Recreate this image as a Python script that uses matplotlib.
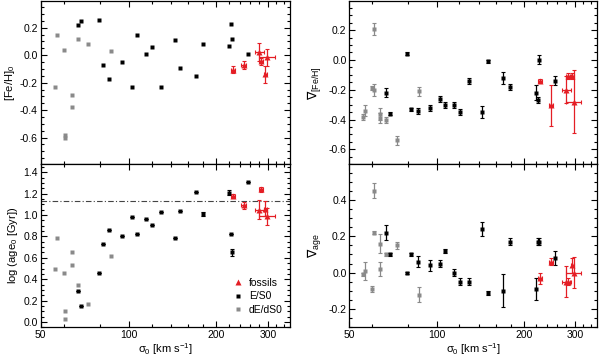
import matplotlib
matplotlib.use('Agg')
import matplotlib.pyplot as plt
from matplotlib.lines import Line2D
from matplotlib.ticker import FixedLocator, MultipleLocator, FuncFormatter, NullFormatter

plt.rcParams['font.family'] = ['Liberation Sans', 'DejaVu Sans']
plt.rcParams['mathtext.fontset'] = 'custom'
plt.rcParams['mathtext.rm'] = 'Liberation Sans'
plt.rcParams['mathtext.it'] = 'Liberation Sans:italic'
plt.rcParams['mathtext.sf'] = 'Liberation Sans'

# ---------------- data ----------------
# velocity dispersions [km/s]
sig_dE = [55.8, 56.7, 59.9, 60.7, 60.7, 63.9, 63.9, 66.9, 72.8, 86.8]
sig_E = [66.9, 68.9, 78.9, 81.8, 86.0, 95.1, 103.0, 107.0, 115.0, 120.2,
         129.1, 143.8, 150.5, 170.2, 179.2, 221.0, 224.0, 226.0, 256.6]
sig_F = [227.9, 247.5, 280.5, 284.3, 294.3, 298.2]
sig_F_err = [4, 4, 10, 4, 4, 18]

# central [Fe/H]
feh_dE = [-0.23, 0.15, 0.04, -0.58, -0.60, -0.29, -0.38, 0.12, 0.08, 0.03]
feh_E = [0.22, 0.25, 0.26, -0.07, -0.17, -0.05, -0.23, 0.15, 0.01, 0.06,
         -0.23, 0.11, -0.09, -0.15, 0.08, 0.07, 0.23, 0.12, 0.01]
feh_F = [-0.105, -0.07, 0.025, -0.045, -0.14, -0.015]
feh_F_err = [0.025, 0.03, 0.065, 0.025, 0.06, 0.06]

# central log age
age_dE = [0.50, 0.79, 0.46, 0.10, 0.03, 0.65, 0.53, 0.35, 0.17, 0.62]
age_E = [0.29, 0.15, 0.46, 0.73, 0.86, 0.80, 0.98, 0.82, 0.96, 0.91,
         1.03, 0.79, 1.04, 1.22, 1.01, 1.21, 0.82, 0.65, 1.31]
age_E_err = [0, 0, 0, 0, 0, 0, 0, 0, 0, 0, 0, 0, 0, 0, 0.015, 0.02, 0, 0.03, 0]
age_F = [1.18, 1.09, 1.05, 1.24, 1.06, 0.99]
age_F_err = [0.02, 0.03, 0.09, 0.02, 0.07, 0.08]
log_age_universe = 1.13

# [Fe/H] gradients
gfeh_dE = [-0.38, -0.34, -0.19, 0.21, -0.20, -0.36, -0.39, -0.40, -0.54, -0.21]
gfeh_dE_err = [0.02, 0.035, 0.015, 0.04, 0.04, 0.04, 0.035, 0.02, 0.03, 0.03]
gfeh_E = [-0.22, -0.36, 0.04, -0.33, -0.34, -0.32, -0.26, -0.30, -0.30, -0.35,
          -0.14, -0.35, -0.01, -0.12, -0.18, -0.22, -0.27, 0.00, -0.14]
gfeh_E_err = [0.03, 0.01, 0.01, 0.01, 0.02, 0.02, 0.02, 0.02, 0.02, 0.02,
              0.02, 0.04, 0.01, 0.04, 0.02, 0.05, 0.02, 0.03, 0.03]
gfeh_F = [-0.14, -0.305, -0.20, -0.11, -0.11, -0.28]
gfeh_F_err = [0.01, 0.14, 0.09, 0.02, 0.02, 0.21]

# age gradients
gage_dE = [-0.01, 0.01, -0.09, 0.45, 0.22, 0.16, 0.02, 0.10, 0.15, -0.12]
gage_dE_err = [0.01, 0.05, 0.015, 0.04, 0.01, 0.05, 0.04, 0.01, 0.02, 0.04]
gage_E = [0.22, 0.10, 0.00, 0.10, 0.06, 0.04, 0.05, 0.12, 0.00, -0.05,
          -0.05, 0.24, -0.11, -0.10, 0.17, -0.09, 0.17, 0.17, 0.08]
gage_E_err = [0.04, 0.01, 0.005, 0.01, 0.03, 0.03, 0.02, 0.01, 0.02, 0.02,
              0.02, 0.04, 0.01, 0.09, 0.02, 0.06, 0.02, 0.02, 0.04]
gage_F = [-0.03, 0.06, -0.05, -0.05, 0.04, 0.00]
gage_F_err = [0.03, 0.02, 0.085, 0.02, 0.04, 0.085]

# ---------------- styling ----------------
C_F = '#e41e25'
C_E = '#000000'
C_D = '#8a8a8a'
FS = 7.5
XLIM = (50, 357)

fig = plt.figure(figsize=(6.0, 3.59), dpi=100)
axTL = fig.add_axes([0.0678, 0.5423, 0.4155, 0.4549])
axBL = fig.add_axes([0.0678, 0.0883, 0.4155, 0.4540])
axTR = fig.add_axes([0.5822, 0.5423, 0.4123, 0.4549])
axBR = fig.add_axes([0.5822, 0.0883, 0.4123, 0.4540])


def style(ax, ylim, show_x):
    ax.set_xscale('log')
    ax.set_xlim(*XLIM)
    ax.set_ylim(*ylim)
    ax.xaxis.set_major_locator(FixedLocator([50, 100, 200, 300]))
    ax.xaxis.set_minor_locator(FixedLocator([60, 80, 120, 140, 160, 180, 220,
                                             240, 260, 280, 320, 340]))
    ax.xaxis.set_minor_formatter(NullFormatter())
    if show_x:
        ax.xaxis.set_major_formatter(FuncFormatter(lambda v, p: f'{v:g}'))
        ax.set_xlabel('σ$_0$ [km s$^{-1}$]', fontsize=FS + 0.5, labelpad=1)
    else:
        ax.xaxis.set_major_formatter(NullFormatter())
    ax.yaxis.set_major_locator(MultipleLocator(0.2))
    ax.yaxis.set_minor_locator(MultipleLocator(0.05))
    ax.yaxis.set_major_formatter(FuncFormatter(lambda v, p: f'{v:.1f}'.replace('-0.0', '0.0')))
    ax.tick_params(which='both', direction='in', top=True, right=True,
                   labelsize=FS, width=0.8, pad=2)
    ax.tick_params(which='major', length=4)
    ax.tick_params(which='minor', length=2)
    for s in ax.spines.values():
        s.set_linewidth(0.9)


ms_sq = 3.4
ms_tri = 4.6
eb = dict(elinewidth=0.9, capsize=1.5, capthick=0.8, linestyle='none')

# Top-left: [Fe/H]0
axTL.plot(sig_dE, feh_dE, 's', color=C_D, ms=ms_sq, mec='none')
axTL.plot(sig_E, feh_E, 's', color=C_E, ms=ms_sq, mec='none')
axTL.errorbar(sig_F, feh_F, yerr=feh_F_err, xerr=sig_F_err, fmt='^',
              color=C_F, ms=ms_tri, mec='none', **eb)
style(axTL, (-0.795, 0.395), False)
axTL.set_ylabel('[Fe/H]$_0$', fontsize=FS + 0.5, labelpad=2)

# Bottom-left: log age0
axBL.axhline(log_age_universe, color='#444444', lw=0.8, ls='-.', dashes=(5, 2, 1, 2))
axBL.plot(sig_dE, age_dE, 's', color=C_D, ms=ms_sq, mec='none')
axBL.errorbar(sig_E, age_E, yerr=age_E_err, fmt='s', color=C_E, ms=ms_sq,
              mec='none', **eb)
axBL.errorbar(sig_F, age_F, yerr=age_F_err, xerr=sig_F_err, fmt='^',
              color=C_F, ms=ms_tri, mec='none', **eb)
style(axBL, (-0.05, 1.475), True)
axBL.set_ylabel('log (age$_0$ [Gyr])', fontsize=FS + 0.5, labelpad=2)

handles = [Line2D([], [], marker='^', color=C_F, ls='none', ms=ms_tri, mec='none'),
           Line2D([], [], marker='s', color=C_E, ls='none', ms=ms_sq, mec='none'),
           Line2D([], [], marker='s', color=C_D, ls='none', ms=ms_sq, mec='none')]
axBL.legend(handles, ['fossils', 'E/S0', 'dE/dS0'], loc='lower right',
            bbox_to_anchor=(1.0, 0.03), frameon=False, fontsize=FS,
            handlelength=1.0, handletextpad=0.5, labelspacing=0.35,
            borderaxespad=0.3)

# Top-right: Fe/H gradient
axTR.errorbar(sig_dE, gfeh_dE, yerr=gfeh_dE_err, fmt='s', color=C_D,
              ms=ms_sq, mec='none', **eb)
axTR.errorbar(sig_E, gfeh_E, yerr=gfeh_E_err, fmt='s', color=C_E,
              ms=ms_sq, mec='none', **eb)
axTR.errorbar(sig_F, gfeh_F, yerr=gfeh_F_err, xerr=sig_F_err, fmt='^',
              color=C_F, ms=ms_tri, mec='none', **eb)
style(axTR, (-0.7, 0.395), False)
axTR.set_ylabel('∇$_{\\rm [Fe/H]}$', fontsize=FS + 1.5, labelpad=3,
                family=['DejaVu Sans'])

# Bottom-right: age gradient
axBR.errorbar(sig_dE, gage_dE, yerr=gage_dE_err, fmt='s', color=C_D,
              ms=ms_sq, mec='none', **eb)
axBR.errorbar(sig_E, gage_E, yerr=gage_E_err, fmt='s', color=C_E,
              ms=ms_sq, mec='none', **eb)
axBR.errorbar(sig_F, gage_F, yerr=gage_F_err, xerr=sig_F_err, fmt='^',
              color=C_F, ms=ms_tri, mec='none', **eb)
style(axBR, (-0.3, 0.595), True)
axBR.set_ylabel('∇$_{\\rm age}$', fontsize=FS + 1.5, labelpad=3,
                family=['DejaVu Sans'])

fig.savefig('out.png', dpi=100)
